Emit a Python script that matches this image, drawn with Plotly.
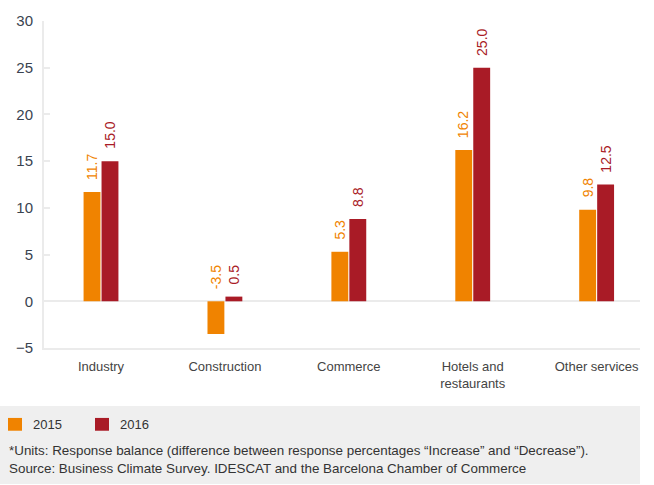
import plotly.graph_objects as go

categories = ["Industry", "Construction", "Commerce", "Hotels and<br>restaurants", "Other services"]
values_2015 = [11.7, -3.5, 5.3, 16.2, 9.8]
values_2016 = [15.0, 0.5, 8.8, 25.0, 12.5]
series_names = ["2015", "2016"]
y_ticks = [-5, 0, 5, 10, 15, 20, 25, 30]
footnote_lines = [
    "*Units: Response balance (difference between response percentages \u201cIncrease\u201d and \u201cDecrease\u201d).",
    "Source: Business Climate Survey. IDESCAT and the Barcelona Chamber of Commerce",
]

ORANGE = "#F08300"
RED = "#A91B26"
FONT = "Liberation Sans, Arial, sans-serif"

W, H = 654, 485
ML, MR, MT, MB = 44, 14, 16, 137
PW = W - ML - MR
PH = H - MT - MB


def px_to_paper_x(px):
    return (px - ML) / PW


def px_to_paper_y(py):
    return (H - MB - py) / PH


fig = go.Figure()
colors = [ORANGE, RED]
for name, vals, col in zip(series_names, [values_2015, values_2016], colors):
    fig.add_trace(go.Bar(x=categories, y=vals, name=name, marker=dict(color=col, line=dict(width=0)),
                         hoverinfo="skip"))

# data labels
for vals, col, shift in [(values_2015, ORANGE, -9), (values_2016, RED, 9)]:
    for c, v in zip(categories, vals):
        fig.add_annotation(
            x=c, y=max(v, 0), xref="x", yref="y", text=f"{v:.1f}", showarrow=False,
            textangle=-90, xanchor="center", yanchor="bottom", xshift=shift, yshift=10,
            font=dict(family=FONT, size=14, color=col),
        )

# footer gray box
fig.add_shape(type="rect", xref="paper", yref="paper",
              x0=px_to_paper_x(0), x1=px_to_paper_x(640),
              y0=px_to_paper_y(486), y1=px_to_paper_y(407),
              fillcolor="#EFEFEF", line=dict(width=0), layer="below")

# manual legend
legend_x = [8, 95]
for name, col, lx in zip(series_names, colors, legend_x):
    fig.add_shape(type="rect", xref="paper", yref="paper",
                  x0=px_to_paper_x(lx), x1=px_to_paper_x(lx + 14),
                  y0=px_to_paper_y(432), y1=px_to_paper_y(419),
                  fillcolor=col, line=dict(width=0))
    fig.add_annotation(x=px_to_paper_x(lx + 23), y=px_to_paper_y(426), xref="paper", yref="paper",
                       text=name, showarrow=False, xanchor="left", yanchor="middle",
                       font=dict(family=FONT, size=13, color="#333333"))

for i, line in enumerate(footnote_lines):
    fig.add_annotation(
        x=px_to_paper_x(7), y=px_to_paper_y(452 + 18 * i), xref="paper", yref="paper",
        text=line, showarrow=False, xanchor="left", yanchor="middle",
        font=dict(family=FONT, size=13.4, color="#333333"),
    )

fig.update_layout(
    width=W, height=H,
    margin=dict(l=ML, r=MR, t=MT, b=MB),
    paper_bgcolor="white", plot_bgcolor="white",
    barmode="group", bargap=0.71, bargroupgap=0.06,
    font=dict(family=FONT, color="#333333"),
    showlegend=False,
    xaxis=dict(type="category", range=[-0.46, 4.35], showline=True, linecolor="#EBEBEB", linewidth=2,
               showgrid=False, zeroline=False, ticks="", ticklabelstandoff=5,
               tickfont=dict(family=FONT, size=13, color="#444444")),
    yaxis=dict(range=[-5, 30], tickvals=y_ticks, showline=True, linecolor="#EBEBEB", linewidth=2,
               showgrid=False, zeroline=True, zerolinecolor="#EBEBEB", zerolinewidth=2,
               ticks="inside", ticklen=6, tickcolor="#EBEBEB", tickwidth=2,
               ticklabelstandoff=6,
               tickfont=dict(family=FONT, size=15, color="#3A4350")),
)

fig.write_html("out.html", config={"displayModeBar": False},
               post_script="document.body.style.margin='0';document.body.style.overflow='hidden';")
